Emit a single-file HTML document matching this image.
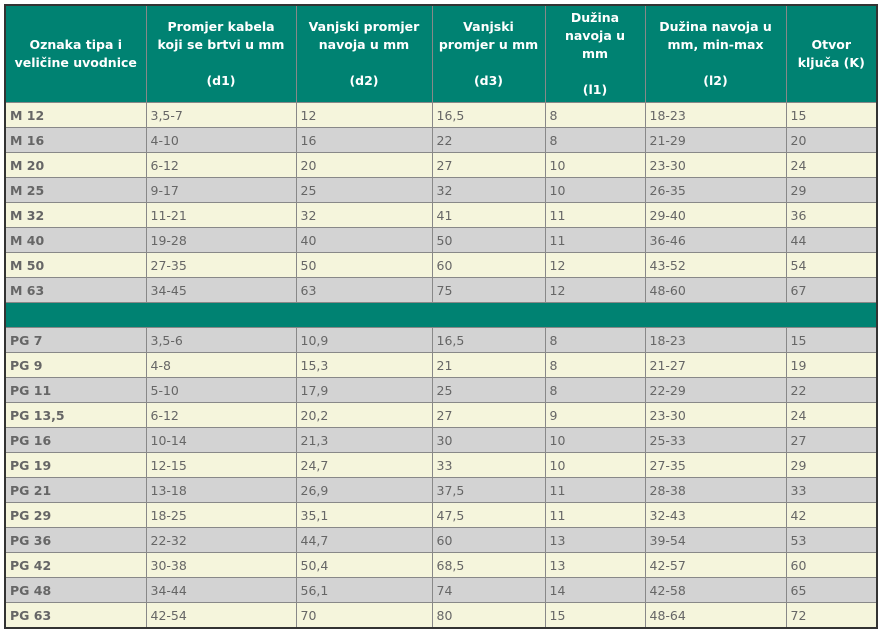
<!DOCTYPE html>
<html><head><meta charset="utf-8"><style>
html,body{margin:0;padding:0;background:#fff;width:882px;height:635px;overflow:hidden}
table{position:absolute;left:4px;top:4px;border-collapse:collapse;table-layout:fixed;border:2px solid #333;font-family:"DejaVu Sans","Liberation Sans",sans-serif;font-size:12.5px;color:#666}
td,th{border:1px solid #888;padding:0 0 0 4px;height:24px;text-align:left;white-space:nowrap}
th{background:#008272;color:#fff;font-weight:bold;text-align:center;padding:0 8px;height:96px;white-space:normal;line-height:18px;font-size:12.5px}
th.n{padding:0 3px}
tr.c td{background:#f5f5dc}
tr.g td{background:#d3d3d3}
tr.s td{background:#008272}
td:first-child{font-weight:bold}
</style></head><body>
<table>
<colgroup><col style="width:141px"><col style="width:150px"><col style="width:136px"><col style="width:113px"><col style="width:100px"><col style="width:141px"><col style="width:91px"></colgroup>
<thead><tr>
<th>Oznaka tipa i veličine uvodnice</th>
<th>Promjer kabela koji se brtvi u mm<br><br>(d1)</th>
<th class="n">Vanjski promjer navoja u mm<br><br>(d2)</th>
<th class="n">Vanjski<br>promjer u mm<br><br>(d3)</th>
<th>Dužina navoja u mm<br><br>(l1)</th>
<th>Dužina navoja u mm, min-max<br><br>(l2)</th>
<th>Otvor ključa (K)</th>
</tr></thead>
<tbody id="tb"></tbody>
</table>
<script>
const rows=[
["M 12","3,5-7","12","16,5","8","18-23","15"],
["M 16","4-10","16","22","8","21-29","20"],
["M 20","6-12","20","27","10","23-30","24"],
["M 25","9-17","25","32","10","26-35","29"],
["M 32","11-21","32","41","11","29-40","36"],
["M 40","19-28","40","50","11","36-46","44"],
["M 50","27-35","50","60","12","43-52","54"],
["M 63","34-45","63","75","12","48-60","67"],
null,
["PG 7","3,5-6","10,9","16,5","8","18-23","15"],
["PG 9","4-8","15,3","21","8","21-27","19"],
["PG 11","5-10","17,9","25","8","22-29","22"],
["PG 13,5","6-12","20,2","27","9","23-30","24"],
["PG 16","10-14","21,3","30","10","25-33","27"],
["PG 19","12-15","24,7","33","10","27-35","29"],
["PG 21","13-18","26,9","37,5","11","28-38","33"],
["PG 29","18-25","35,1","47,5","11","32-43","42"],
["PG 36","22-32","44,7","60","13","39-54","53"],
["PG 42","30-38","50,4","68,5","13","42-57","60"],
["PG 48","34-44","56,1","74","14","42-58","65"],
["PG 63","42-54","70","80","15","48-64","72"]];
const tb=document.getElementById('tb');
rows.forEach((r,i)=>{
const tr=document.createElement('tr');


tr.className=r?(i%2?'g':'c'):'s';
if(!r){const td=document.createElement('td');td.colSpan=7;


tr.appendChild(td);}
else r.forEach(v=>{const td=document.createElement('td');td.textContent=v;


tr.appendChild(td);});
tb.appendChild(tr);});
</script>
</body></html>
